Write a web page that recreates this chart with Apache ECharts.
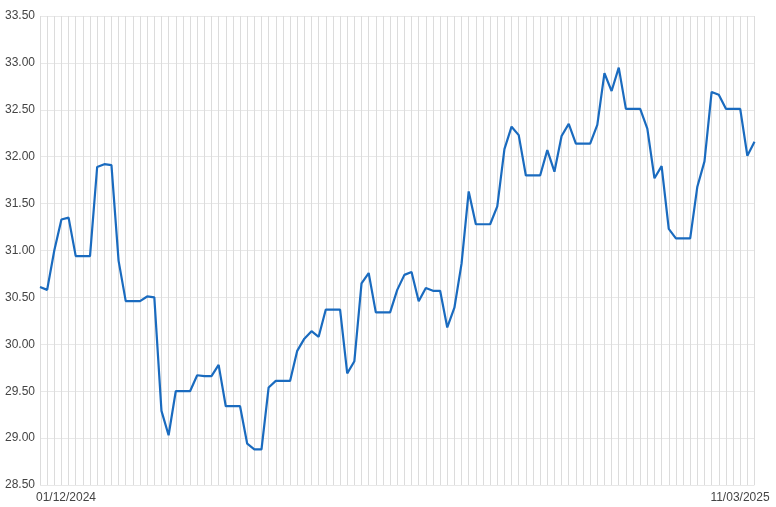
<!DOCTYPE html>
<html>
<head>
<meta charset="utf-8">
<script src="https://cdn.jsdelivr.net/npm/echarts@6/dist/echarts.min.js"></script>
<style>
html,body{margin:0;padding:0;background:#fff;}
#chart{width:776px;height:507px;}
</style>
</head>
<body>
<div id="chart"></div>
<script>
// Daily dates 01/12/2024 .. 11/03/2025 (101 days)
const startDate = [2024, 11, 1]; // year, monthIndex, day
const dayCount = 101;
const categories = [];
for (let i = 0; i < dayCount; i++) {
  const d = new Date(Date.UTC(startDate[0], startDate[1], startDate[2] + i));
  const dd = String(d.getUTCDate()).padStart(2, '0');
  const mm = String(d.getUTCMonth() + 1).padStart(2, '0');
  categories.push(dd + '/' + mm + '/' + d.getUTCFullYear());
}

const prices = [
  30.61, 30.58, 31.00, 31.33, 31.35, 30.94, 30.94, 30.94, 31.89, 31.92,
  31.91, 30.89, 30.46, 30.46, 30.46, 30.51, 30.50, 29.29, 29.03, 29.50,
  29.50, 29.50, 29.67, 29.66, 29.66, 29.78, 29.34, 29.34, 29.34, 28.94,
  28.88, 28.88, 29.54, 29.61, 29.61, 29.61, 29.93, 30.06, 30.14, 30.08,
  30.37, 30.37, 30.37, 29.69, 29.82, 30.65, 30.76, 30.34, 30.34, 30.34,
  30.58, 30.74, 30.77, 30.46, 30.60, 30.57, 30.57, 30.18, 30.39, 30.86,
  31.63, 31.28, 31.28, 31.28, 31.47, 32.08, 32.32, 32.23, 31.80, 31.80,
  31.80, 32.07, 31.84, 32.22, 32.35, 32.14, 32.14, 32.14, 32.34, 32.89,
  32.70, 32.95, 32.51, 32.51, 32.51, 32.30, 31.77, 31.90, 31.23, 31.13,
  31.13, 31.13, 31.68, 31.95, 32.69, 32.66, 32.51, 32.51, 32.51, 32.01,
  32.16
];

const yMin = 28.5, yMax = 33.5, yStep = 0.5;

const chart = echarts.init(document.getElementById('chart'), null, {renderer: 'canvas'});
chart.setOption({
  animation: false,
  backgroundColor: '#ffffff',
  grid: {left: 40, right: 21.5, top: 16, bottom: 22, containLabel: false},
  xAxis: {
    type: 'category',
    data: categories,
    boundaryGap: false,
    axisLine: {show: false},
    axisTick: {show: false},
    splitLine: {show: true, interval: 0, lineStyle: {color: '#dcdcdc', width: 1}},
    axisLabel: {
      interval: function (index) { return index === 0 || index === categories.length - 1; },
      color: '#444',
      fontFamily: 'Liberation Sans, Arial, sans-serif',
      fontSize: 12,
      margin: 7,
      formatter: function (val, index) {
        if (index === 0) return '{first|' + val + '}';
        return '{last|' + val + '}';
      },
      rich: {
        first: {padding: [0, 0, 0, 52], color: '#444', fontSize: 12, fontFamily: 'Liberation Sans, Arial, sans-serif'},
        last: {padding: [0, 29, 0, 0], color: '#444', fontSize: 12, fontFamily: 'Liberation Sans, Arial, sans-serif'}
      }
    }
  },
  yAxis: {
    type: 'value',
    min: yMin,
    max: yMax,
    interval: yStep,
    axisLine: {show: false},
    axisTick: {show: false},
    splitLine: {show: true, lineStyle: {color: '#e8e8e8', width: 1}},
    axisLabel: {
      color: '#444',
      fontFamily: 'Liberation Sans, Arial, sans-serif',
      fontSize: 12,
      margin: 5,
      formatter: function (v) { return v.toFixed(2); }
    }
  },
  series: [{
    type: 'line',
    data: prices,
    showSymbol: false,
    symbol: 'none',
    lineStyle: {color: '#1a6bbf', width: 2.2},
    itemStyle: {color: '#1a6bbf'}
  }]
});
</script>
</body>
</html>
